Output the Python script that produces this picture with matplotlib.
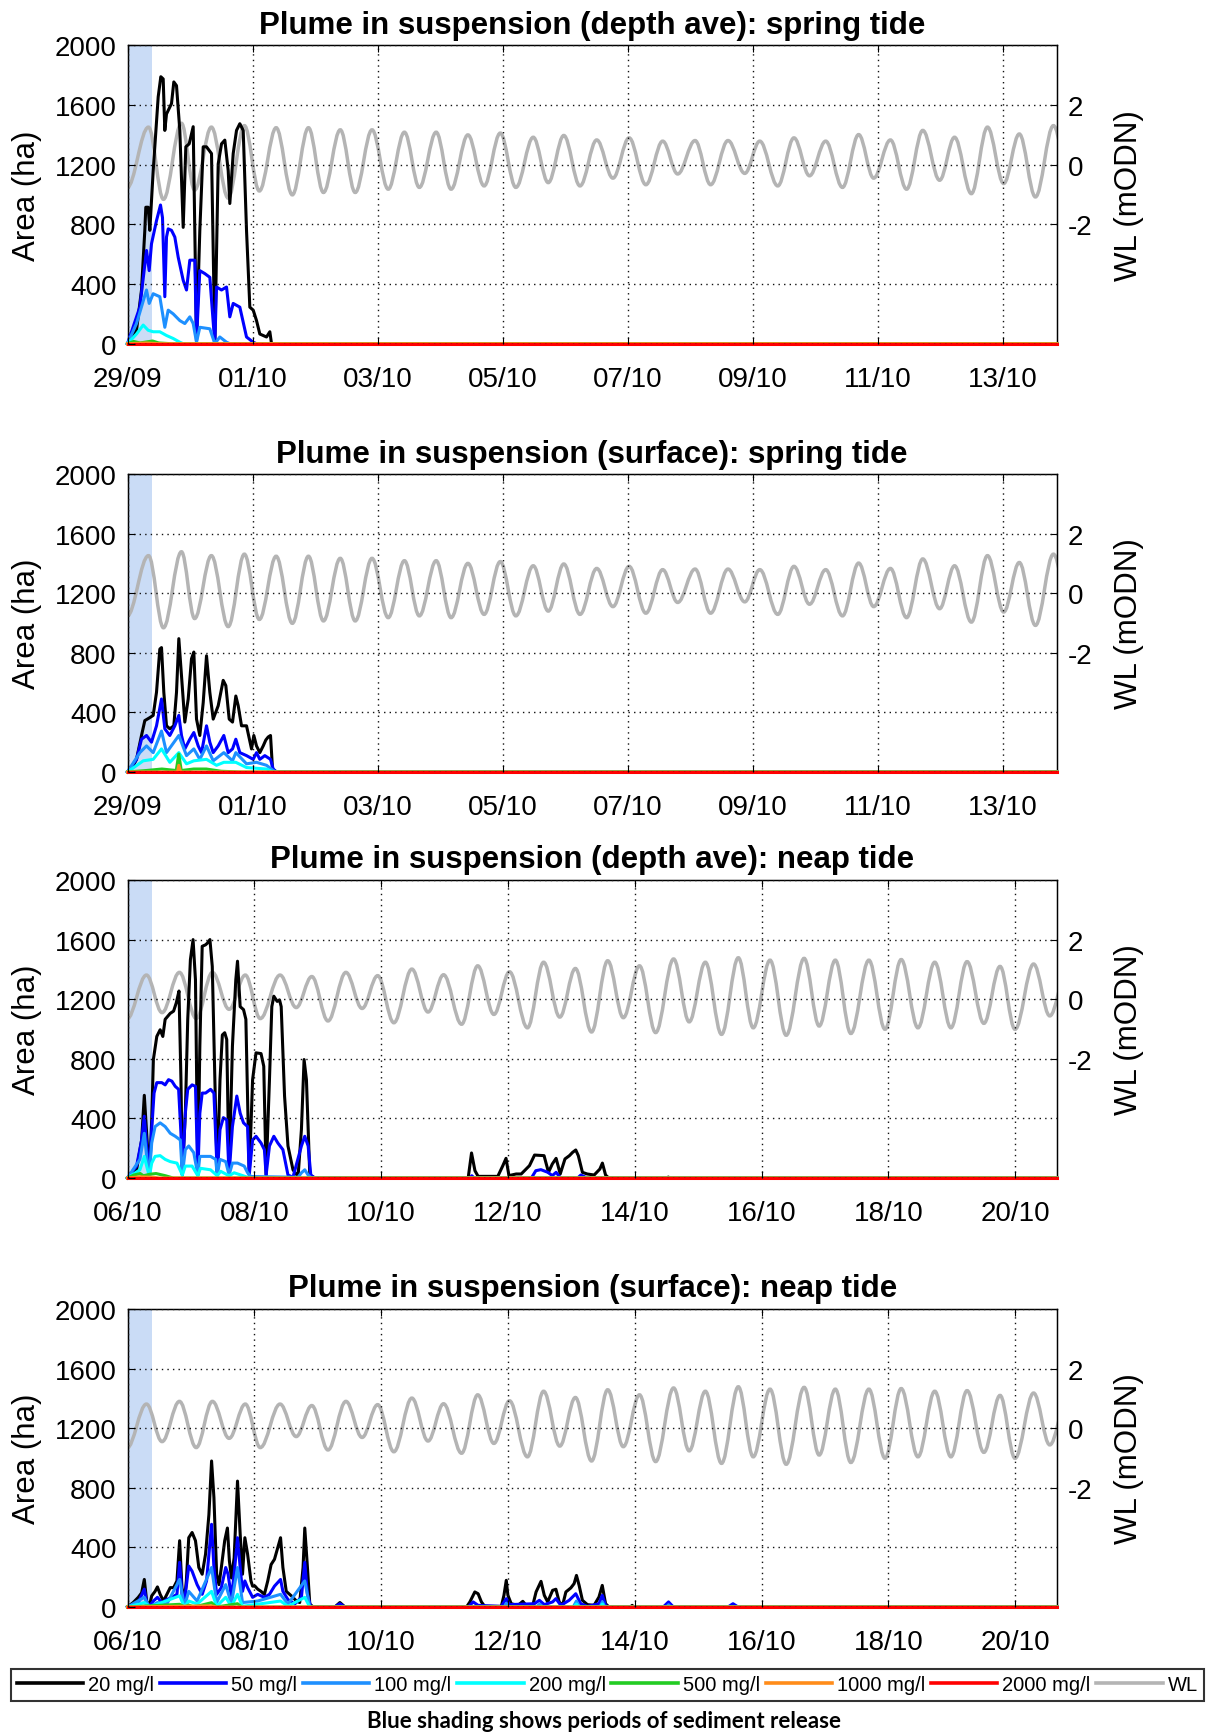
import numpy as np
import matplotlib
matplotlib.use('Agg')
import matplotlib.pyplot as plt
from matplotlib.path import Path
from matplotlib.patches import PathPatch
from matplotlib.lines import Line2D
import matplotlib.dates as mdates
from datetime import datetime

plt.rcParams['font.family'] = ['Liberation Sans', 'DejaVu Sans']
plt.rcParams['axes.unicode_minus'] = False

# ---------------- data (t in days since panel start, area in ha) ----------------
spring_start = '29/09/2019'
neap_start = '06/10/2019'
spring_span_days = 14.87
neap_span_days = 14.66
release_days = 0.385

spring_ticks = ['29/09', '01/10', '03/10', '05/10', '07/10', '09/10', '11/10', '13/10']
neap_ticks = ['06/10', '08/10', '10/10', '12/10', '14/10', '16/10', '18/10', '20/10']

titles = ['Plume in suspension (depth ave): spring tide',
          'Plume in suspension (surface): spring tide',
          'Plume in suspension (depth ave): neap tide',
          'Plume in suspension (surface): neap tide']

series_labels = ['20 mg/l', '50 mg/l', '100 mg/l', '200 mg/l', '500 mg/l', '1000 mg/l', '2000 mg/l']
series_colors = ['#000000', '#0000ff', '#1e90ff', '#00ffff', '#22cc22', '#ff8c1a', '#ff0000']

# water level extremes (high / low waters), mODN
spring_wl_t = [-0.01, 0.336, 0.575, 0.863, 1.074, 1.342, 1.611, 1.870, 2.109, 2.378, 2.637, 2.895,
               3.135, 3.404, 3.643, 3.912, 4.171, 4.430, 4.669, 4.938, 5.177, 5.446, 5.705, 5.964,
               6.213, 6.491, 6.731, 6.980, 7.239, 7.507, 7.766, 8.025, 8.293, 8.562, 8.802, 9.080,
               9.329, 9.607, 9.875, 10.115, 10.403, 10.662, 10.911, 11.170, 11.438, 11.697, 11.937,
               12.205, 12.464, 12.723, 12.992, 13.231, 13.500, 13.758, 14.017, 14.267, 14.525,
               14.813, 15.07]
spring_wl = [-0.78, 1.26, -1.16, 1.39, -0.85, 1.26, -1.12, 1.31, -0.88, 1.24, -1.01, 1.24, -0.93,
             1.17, -0.93, 1.17, -0.82, 1.09, -0.76, 1.09, -0.82, 1.00, -0.71, 1.06, -0.76, 0.92,
             -0.60, 0.98, -0.71, 0.83, -0.45, 0.90, -0.67, 0.79, -0.31, 0.81, -0.67, 0.81, -0.29,
             0.79, -0.71, 0.90, -0.37, 0.79, -0.76, 1.01, -0.45, 0.83, -0.82, 1.15, -0.52, 0.92,
             -0.97, 1.26, -0.63, 1.03, -1.08, 1.31, -0.60]
neap_wl_t = [-0.01, 0.299, 0.545, 0.819, 1.084, 1.339, 1.603, 1.858, 2.094, 2.406, 2.661, 2.907,
             3.162, 3.445, 3.700, 3.946, 4.201, 4.485, 4.740, 4.985, 5.269, 5.524, 5.779, 6.025,
             6.308, 6.563, 6.818, 7.064, 7.319, 7.574, 7.820, 8.075, 8.330, 8.613, 8.859, 9.114,
             9.369, 9.634, 9.869, 10.134, 10.389, 10.672, 10.909, 11.164, 11.409, 11.693, 11.948,
             12.203, 12.467, 12.732, 12.987, 13.242, 13.507, 13.762, 13.998, 14.291, 14.546, 14.81]
neap_wl = [-0.67, 0.81, -0.45, 0.90, -0.65, 0.90, -0.34, 0.81, -0.65, 0.81, -0.28, 0.76, -0.73,
           0.90, -0.31, 0.79, -0.79, 1.01, -0.43, 0.82, -0.84, 1.12, -0.51, 0.92, -0.96, 1.24,
           -0.60, 1.03, -1.10, 1.29, -0.62, 1.12, -1.12, 1.35, -0.76, 1.24, -1.18, 1.39, -0.96,
           1.31, -1.21, 1.37, -0.90, 1.31, -1.15, 1.31, -1.01, 1.33, -0.96, 1.24, -0.96, 1.26,
           -0.81, 1.10, -1.01, 1.18, -0.56, 0.90]

# Panel 1: spring, depth averaged
p1_20 = [(0, 0), (0.144, 90), (0.224, 360), (0.277, 760), (0.293, 915), (0.331, 915), (0.357, 760),
         (0.411, 1160), (0.491, 1655), (0.533, 1790), (0.571, 1775), (0.597, 1430), (0.624, 1540),
         (0.704, 1610), (0.741, 1755), (0.784, 1730), (0.837, 1430), (0.891, 780), (0.933, 1320),
         (0.987, 1340), (1.051, 1455), (1.104, 20), (1.157, 760), (1.211, 1320), (1.264, 1320),
         (1.344, 1275), (1.397, 0), (1.451, 1205), (1.504, 1340), (1.557, 1365), (1.611, 1160),
         (1.637, 940), (1.691, 1275), (1.744, 1430), (1.797, 1475), (1.851, 1430), (1.904, 760),
         (1.957, 245), (2.011, 225), (2.064, 155), (2.117, 65), (2.224, 45), (2.277, 80), (2.304, 0)]
p1_50 = [(0, 0), (0.197, 245), (0.304, 625), (0.347, 490), (0.384, 670), (0.464, 825), (0.528, 930),
         (0.56, 845), (0.597, 315), (0.624, 715), (0.651, 770), (0.704, 760), (0.757, 715),
         (0.811, 580), (0.891, 425), (0.944, 360), (0.997, 560), (1.077, 560), (1.104, 20),
         (1.157, 490), (1.237, 470), (1.317, 445), (1.397, 0), (1.424, 380), (1.504, 360),
         (1.584, 380), (1.637, 180), (1.691, 270), (1.797, 245), (1.904, 45), (2.011, 10), (2.064, 0)]
p1_100 = [(0, 0), (0.144, 135), (0.304, 360), (0.347, 270), (0.411, 335), (0.517, 315), (0.597, 110),
          (0.651, 225), (0.731, 200), (0.837, 155), (0.917, 135), (0.997, 180), (1.051, 135),
          (1.104, 10), (1.157, 110), (1.317, 100), (1.397, 0), (1.477, 45), (1.584, 10), (1.637, 0)]
p1_200 = [(0, 0), (0.144, 65), (0.251, 125), (0.331, 90), (0.411, 80), (0.517, 80), (0.624, 55),
          (0.731, 35), (0.837, 10), (0.891, 0)]
p1_500 = [(0, 0), (0.1, 15), (0.2, 5), (0.4, 18), (0.5, 5), (0.7, 0)]
p1_1000 = [(0, 0), (0.3, 5), (0.5, 0)]
p1_2000 = [(0, 0)]

# Panel 2: spring, surface
p2_20 = [(0, 0), (0.064, 20), (0.144, 85), (0.224, 245), (0.277, 345), (0.357, 365), (0.411, 380),
         (0.464, 535), (0.517, 825), (0.544, 835), (0.581, 535), (0.624, 310), (0.677, 290),
         (0.741, 310), (0.784, 535), (0.821, 895), (0.864, 645), (0.917, 335), (0.971, 490),
         (1.024, 760), (1.061, 805), (1.104, 355), (1.157, 245), (1.211, 465), (1.264, 780),
         (1.317, 535), (1.371, 355), (1.451, 445), (1.531, 615), (1.573, 580), (1.627, 355),
         (1.68, 335), (1.733, 510), (1.771, 445), (1.824, 310), (1.904, 310), (1.984, 155),
         (2.021, 245), (2.064, 175), (2.117, 130), (2.171, 175), (2.213, 215), (2.251, 235),
         (2.288, 245), (2.32, 20), (2.384, 0)]
p2_50 = [(0, 0), (0.144, 85), (0.224, 220), (0.304, 245), (0.384, 200), (0.464, 310), (0.544, 490),
         (0.597, 290), (0.677, 245), (0.757, 310), (0.821, 380), (0.864, 245), (0.917, 155),
         (0.997, 220), (1.061, 265), (1.131, 175), (1.184, 130), (1.264, 310), (1.317, 200),
         (1.371, 130), (1.451, 175), (1.541, 245), (1.611, 130), (1.68, 155), (1.733, 220),
         (1.797, 130), (1.904, 110), (2.011, 85), (2.064, 130), (2.117, 85), (2.197, 110),
         (2.288, 85), (2.331, 20), (2.384, 0)]
p2_100 = [(0, 0), (0.197, 130), (0.304, 175), (0.411, 130), (0.544, 275), (0.624, 130), (0.821, 245),
          (0.944, 110), (1.061, 155), (1.157, 85), (1.264, 175), (1.371, 75), (1.541, 130),
          (1.68, 75), (1.733, 130), (1.904, 55), (2.064, 65), (2.224, 45), (2.331, 10), (2.384, 0)]
p2_200 = [(0, 0), (0.251, 75), (0.411, 85), (0.544, 155), (0.677, 65), (0.821, 130), (0.944, 55),
          (1.061, 75), (1.264, 85), (1.424, 45), (1.541, 65), (1.733, 65), (1.904, 30), (2.224, 20),
          (2.331, 0)]
p2_500 = [(0, 0), (0.3, 10), (0.55, 20), (0.78, 10), (0.82, 120), (0.86, 10), (1.06, 20), (1.26, 20),
          (1.5, 5), (1.8, 0)]
p2_1000 = [(0, 0), (0.8, 0), (0.82, 45), (0.85, 0)]
p2_2000 = [(0, 0)]

# Panel 3: neap, depth averaged
p3_20 = [(0, 0), (0.143, 55), (0.223, 255), (0.265, 555), (0.302, 300), (0.345, 20), (0.382, 390),
         (0.408, 795), (0.462, 950), (0.515, 995), (0.557, 950), (0.594, 1065), (0.674, 1105),
         (0.727, 1120), (0.769, 1175), (0.812, 1255), (0.843, 660), (0.865, 20), (0.912, 435),
         (0.95, 1065), (0.992, 1465), (1.034, 1600), (1.072, 1330), (1.109, 20), (1.141, 885),
         (1.178, 1555), (1.231, 1565), (1.257, 1575), (1.3, 1600), (1.337, 1420), (1.39, 435),
         (1.416, 20), (1.459, 660), (1.496, 960), (1.533, 975), (1.565, 930), (1.602, 20),
         (1.655, 885), (1.708, 1330), (1.735, 1455), (1.777, 1150), (1.83, 1130), (1.867, 1065),
         (1.92, 20), (1.973, 660), (2.027, 840), (2.106, 835), (2.149, 750), (2.186, 20),
         (2.239, 660), (2.276, 1150), (2.308, 1220), (2.361, 1185), (2.398, 1195), (2.424, 1150),
         (2.477, 550), (2.531, 215), (2.61, 55), (2.69, 10), (2.743, 325), (2.785, 795),
         (2.822, 660), (2.875, 20), (2.955, 0),
         (5.373, 0), (5.426, 168), (5.48, 49), (5.53, 11), (5.84, 11), (5.92, 83), (5.97, 132),
         (6.016, 16), (6.13, 27), (6.21, 27), (6.34, 83), (6.42, 154), (6.57, 150), (6.64, 38),
         (6.70, 94), (6.76, 132), (6.825, 27), (6.90, 128), (6.97, 150), (7.02, 172), (7.07, 188),
         (7.11, 150), (7.175, 38), (7.25, 27), (7.36, 20), (7.45, 60), (7.49, 100), (7.54, 20),
         (7.59, 0), (8.50, 0), (8.53, 6), (8.56, 0)]
p3_50 = [(0, 0), (0.143, 80), (0.223, 255), (0.265, 415), (0.302, 215), (0.345, 20), (0.382, 325),
         (0.419, 570), (0.462, 640), (0.541, 640), (0.594, 625), (0.647, 660), (0.7, 650),
         (0.753, 615), (0.806, 595), (0.843, 300), (0.865, 20), (0.912, 435), (0.95, 595),
         (1.019, 625), (1.072, 615), (1.109, 20), (1.141, 435), (1.178, 570), (1.231, 570),
         (1.31, 595), (1.363, 570), (1.416, 20), (1.459, 325), (1.512, 405), (1.565, 390),
         (1.602, 20), (1.655, 345), (1.724, 550), (1.777, 435), (1.83, 370), (1.894, 345),
         (1.92, 20), (1.973, 255), (2.027, 280), (2.106, 235), (2.159, 190), (2.186, 20),
         (2.239, 215), (2.308, 280), (2.371, 235), (2.451, 190), (2.531, 20), (2.61, 5),
         (2.743, 215), (2.796, 280), (2.849, 215), (2.891, 20), (2.955, 0),
         (5.40, 0), (5.43, 15), (5.47, 0), (6.37, 0), (6.44, 49), (6.52, 56), (6.63, 38),
         (6.70, 16), (6.76, 38), (6.83, 0), (7.10, 0), (7.15, 20), (7.25, 0)]
p3_100 = [(0, 0), (0.196, 125), (0.265, 300), (0.302, 145), (0.345, 20), (0.382, 235), (0.435, 345),
          (0.515, 370), (0.594, 345), (0.674, 300), (0.753, 280), (0.833, 255), (0.865, 20),
          (0.912, 190), (0.966, 215), (1.045, 170), (1.109, 20), (1.141, 145), (1.204, 145),
          (1.31, 145), (1.39, 125), (1.416, 20), (1.459, 125), (1.549, 110), (1.602, 20),
          (1.655, 100), (1.735, 100), (1.841, 80), (1.894, 35), (1.947, 10), (2.69, 5),
          (2.743, 35), (2.796, 55), (2.849, 20), (2.902, 0)]
p3_200 = [(0, 0), (0.196, 55), (0.265, 145), (0.302, 80), (0.345, 10), (0.382, 100), (0.435, 145),
          (0.515, 150), (0.594, 125), (0.674, 110), (0.78, 100), (0.865, 20), (0.912, 80),
          (1.019, 80), (1.109, 15), (1.151, 65), (1.31, 55), (1.416, 15), (1.469, 45), (1.602, 15),
          (1.682, 35), (1.894, 5), (2.0, 0)]
p3_500 = [(0, 0), (0.1, 20), (0.2, 30), (0.25, 15), (0.35, 25), (0.45, 30), (0.6, 15), (0.72, 0)]
p3_1000 = [(0, 0), (0.2, 8), (0.4, 5), (0.5, 0)]
p3_2000 = [(0, 0)]

# Panel 4: neap, surface
p4_20 = [(0, 0), (0.09, 30), (0.17, 65), (0.223, 95), (0.265, 185), (0.302, 40), (0.345, 5),
         (0.382, 75), (0.435, 105), (0.472, 135), (0.515, 85), (0.568, 40), (0.621, 85),
         (0.674, 130), (0.727, 130), (0.78, 175), (0.822, 445), (0.859, 130), (0.897, 40),
         (0.928, 175), (0.966, 465), (1.019, 500), (1.072, 445), (1.125, 265), (1.178, 220),
         (1.231, 355), (1.284, 620), (1.326, 980), (1.363, 735), (1.406, 220), (1.443, 150),
         (1.48, 265), (1.533, 445), (1.576, 530), (1.607, 310), (1.639, 195), (1.682, 330),
         (1.735, 845), (1.777, 490), (1.814, 220), (1.851, 465), (1.894, 355), (1.947, 175),
         (1.973, 140), (2.011, 140), (2.053, 120), (2.106, 105), (2.159, 85), (2.212, 175),
         (2.265, 285), (2.318, 320), (2.371, 400), (2.414, 465), (2.451, 265), (2.504, 105),
         (2.557, 85), (2.61, 65), (2.663, 40), (2.716, 30), (2.769, 265), (2.796, 530),
         (2.838, 265), (2.875, 20), (2.928, 0), (3.27, 0), (3.35, 30), (3.43, 0),
         (5.347, 0), (5.4, 34), (5.478, 101), (5.53, 89), (5.582, 34), (5.634, 4), (5.896, 4),
         (5.937, 78), (5.974, 179), (6.0, 78), (6.052, 22), (6.157, 11), (6.235, 38), (6.287, 11),
         (6.392, 11), (6.444, 101), (6.522, 172), (6.574, 78), (6.627, 34), (6.705, 112),
         (6.757, 119), (6.809, 34), (6.862, 11), (6.914, 101), (6.992, 128), (7.044, 157),
         (7.081, 212), (7.123, 145), (7.175, 45), (7.253, 16), (7.358, 11), (7.436, 67),
         (7.488, 145), (7.54, 22), (7.593, 0), (7.93, 0), (7.96, 11), (7.98, 0)]
p4_50 = [(0, 0), (0.17, 30), (0.265, 120), (0.302, 30), (0.345, 5), (0.408, 40), (0.472, 65),
         (0.541, 30), (0.621, 50), (0.7, 65), (0.78, 85), (0.822, 300), (0.859, 85), (0.897, 30),
         (0.966, 275), (1.019, 240), (1.098, 150), (1.178, 85), (1.247, 175), (1.326, 555),
         (1.363, 265), (1.406, 85), (1.48, 130), (1.549, 265), (1.586, 220), (1.639, 65),
         (1.682, 220), (1.735, 465), (1.777, 265), (1.814, 105), (1.851, 175), (1.894, 130),
         (1.973, 65), (2.053, 85), (2.159, 65), (2.239, 85), (2.318, 140), (2.414, 185),
         (2.451, 105), (2.531, 50), (2.637, 20), (2.743, 65), (2.796, 300), (2.838, 85),
         (2.891, 0), (3.27, 0), (3.35, 22), (3.43, 0),
         (5.373, 0), (5.452, 34), (5.53, 11), (5.896, 4), (5.974, 56), (6.026, 16), (6.418, 22),
         (6.496, 45), (6.574, 16), (6.705, 34), (6.757, 56), (6.835, 11), (6.966, 45), (7.07, 89),
         (7.149, 22), (7.253, 4), (7.436, 22), (7.488, 78), (7.54, 11), (7.593, 0), (8.45, 0),
         (8.533, 34), (8.61, 0), (9.47, 0), (9.55, 22), (9.63, 0)]
p4_100 = [(0, 0), (0.265, 65), (0.345, 0), (0.472, 30), (0.621, 20), (0.822, 185), (0.897, 5),
          (0.966, 105), (1.098, 40), (1.326, 265), (1.406, 30), (1.549, 150), (1.639, 20),
          (1.735, 265), (1.814, 30), (2.053, 40), (2.414, 85), (2.531, 20), (2.796, 175), (2.875, 0),
          (5.94, 0), (5.974, 25), (6.01, 0), (6.45, 0), (6.5, 20), (6.55, 0), (7.03, 0), (7.08, 40),
          (7.13, 0), (7.45, 0), (7.49, 35), (7.53, 0), (8.5, 0), (8.533, 15), (8.57, 0)]
p4_200 = [(0, 0), (0.265, 30), (0.355, 0), (0.822, 75), (0.897, 0), (0.966, 40), (1.098, 20),
          (1.326, 105), (1.406, 5), (1.549, 65), (1.639, 5), (1.735, 85), (1.814, 5), (2.414, 40),
          (2.531, 5), (2.796, 65), (2.875, 0), (7.04, 0), (7.08, 20), (7.12, 0), (7.46, 0),
          (7.49, 20), (7.52, 0)]
p4_500 = [(0, 0), (0.822, 18), (0.9, 0), (0.966, 13), (1.05, 0), (1.326, 29), (1.4, 0), (1.735, 22),
          (1.8, 0)]
p4_1000 = [(0, 0), (1.326, 8), (1.4, 0)]
p4_2000 = [(0, 0)]

# ---------------- figure ----------------
W, H = 1208, 1733
fig = plt.figure(figsize=(W / 100, H / 100), dpi=100)

panel_tops = [46.4, 475, 881, 1310]
panel_bots = [344.7, 773, 1179, 1608]
AX_L, AX_R = 127.5, 1057

WL_COLOR = '#b4b4b4'
SHADE = '#cadcf6'

panels = [
    (titles[0], spring_start, spring_span_days, spring_ticks, spring_wl_t, spring_wl,
     [p1_20, p1_50, p1_100, p1_200, p1_500, p1_1000, p1_2000]),
    (titles[1], spring_start, spring_span_days, spring_ticks, spring_wl_t, spring_wl,
     [p2_20, p2_50, p2_100, p2_200, p2_500, p2_1000, p2_2000]),
    (titles[2], neap_start, neap_span_days, neap_ticks, neap_wl_t, neap_wl,
     [p3_20, p3_50, p3_100, p3_200, p3_500, p3_1000, p3_2000]),
    (titles[3], neap_start, neap_span_days, neap_ticks, neap_wl_t, neap_wl,
     [p4_20, p4_50, p4_100, p4_200, p4_500, p4_1000, p4_2000]),
]


def tide_path(x, y):
    """Smooth curve through successive high/low waters (horizontal tangents at extremes)."""
    verts = [(x[0], y[0])]
    codes = [Path.MOVETO]
    for i in range(len(x) - 1):
        d = x[i + 1] - x[i]
        verts += [(x[i] + 0.364 * d, y[i]), (x[i + 1] - 0.364 * d, y[i + 1]), (x[i + 1], y[i + 1])]
        codes += [Path.CURVE4] * 3
    return Path(verts, codes)


for k, (title, start, span, ticks, wl_t, wl_v, series) in enumerate(panels):
    top, bot = panel_tops[k], panel_bots[k]
    rect = [AX_L / W, 1 - bot / H, (AX_R - AX_L) / W, (bot - top) / H]
    ax = fig.add_axes(rect)
    ax2 = ax.twinx()
    ax.set_zorder(ax2.get_zorder() + 1)
    ax.patch.set_visible(False)

    x0 = mdates.date2num(datetime.strptime(start, '%d/%m/%Y'))
    year = start[-4:]

    # release shading + water level on right axis
    ax2.axvspan(x0, x0 + release_days, color=SHADE, lw=0, zorder=0)
    ax2.add_patch(PathPatch(tide_path(x0 + np.asarray(wl_t), np.asarray(wl_v)),
                            fc='none', ec=WL_COLOR, lw=2.5, zorder=1))
    ax2.set_ylim(-6, 4)
    ax2.set_yticks([-2, 0, 2])
    ax2.tick_params(axis='y', direction='in', length=5, width=0.8, labelsize=20, pad=8)
    ax2.set_ylabel('WL (mODN)', fontsize=22.5)
    ax2.yaxis.set_label_coords(1.061, 0.5)

    # plume areas
    for data, col in zip(series, series_colors):
        arr = np.asarray(data, dtype=float)
        t = np.r_[arr[:, 0], span]
        v = np.r_[arr[:, 1], 0.0]
        ax.plot(x0 + t, v, color=col, lw=2.2, clip_on=False, zorder=2, solid_joinstyle='round')

    ax.set_xlim(x0, x0 + span)
    ax.set_ylim(0, 2000)
    ax.set_yticks(np.arange(0, 2001, 400))
    tick_pos = [mdates.date2num(datetime.strptime(s + '/' + year, '%d/%m/%Y')) for s in ticks]
    ax.set_xticks(tick_pos)
    ax.set_xticklabels(ticks)
    ax.tick_params(axis='both', direction='in', length=5, width=0.8, labelsize=20)
    ax.tick_params(axis='x', pad=16, top=True)
    ax.tick_params(axis='y', pad=8, right=False)
    ax.grid(True, linestyle=(0, (1, 3)), color='#111111', lw=1.0)
    ax.set_axisbelow(False)
    for sp in ax.spines.values():
        sp.set_linewidth(1.0)
        sp.set_zorder(1.9)
    ax.set_ylabel('Area (ha)', fontsize=22.5)
    ax.yaxis.set_label_coords(-0.092, 0.5)
    ax.set_title(title, fontsize=22.5, fontweight='bold', pad=9)

# legend
handles = [Line2D([], [], color=c, lw=2.6) for c in series_colors] + [Line2D([], [], color=WL_COLOR, lw=2.6)]
labels = series_labels + ['WL']
leg = fig.legend(handles, labels, loc='center',
                 bbox_to_anchor=(10.8 / W, 1 - 1703 / H, 1193 / W, 34 / H),
                 bbox_transform=fig.transFigure, mode='expand', ncol=8, fontsize=14.5,
                 handlelength=3.3, handletextpad=0.25, columnspacing=0.6, borderaxespad=0,
                 borderpad=0.3, frameon=True, fancybox=False, edgecolor='black')
leg.get_frame().set_linewidth(1.5)

fig.text(0.5, 1 - 1722 / H, 'Blue shading shows periods of sediment release',
         ha='center', va='center', fontsize=16, fontweight='bold', family=['Lato', 'DejaVu Sans'])

fig.savefig('out.png', dpi=100)
